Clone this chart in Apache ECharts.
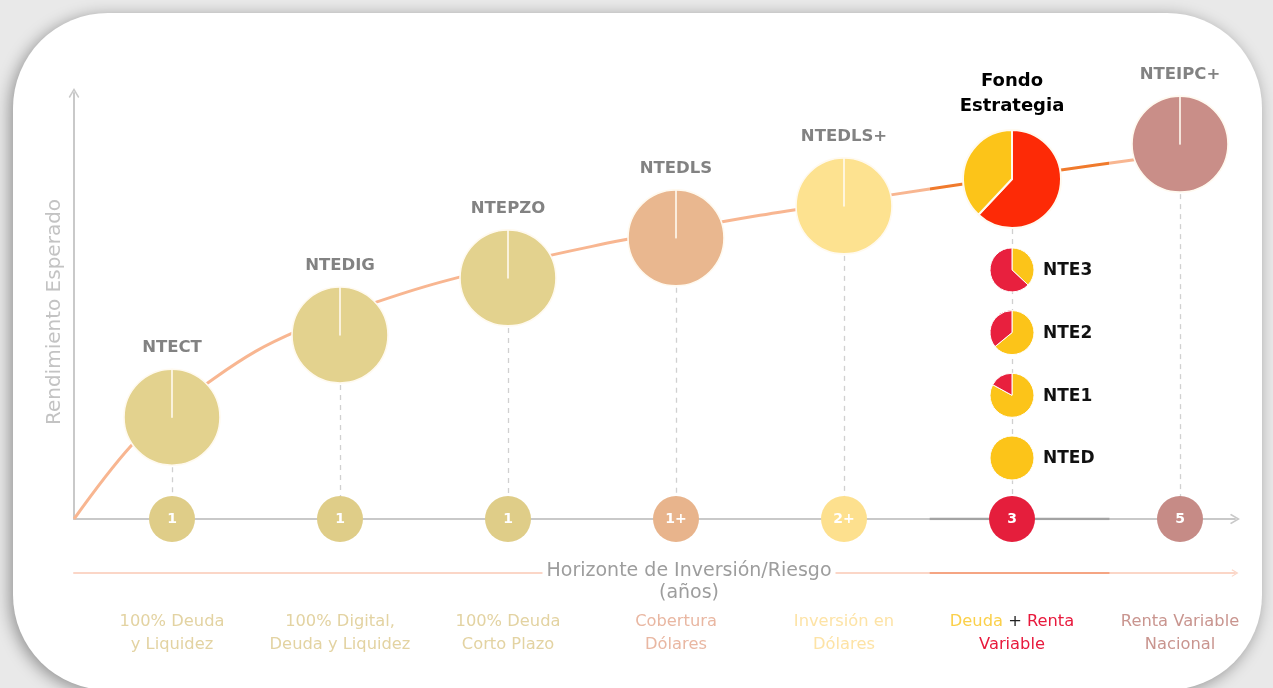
<!DOCTYPE html>
<html><head><meta charset="utf-8">
<script src="https://cdn.jsdelivr.net/npm/echarts@6/dist/echarts.min.js"></script>
<style>html,body{margin:0;padding:0;background:#e8e8e8}#c{width:1273px;height:688px}</style>
</head><body><div id="c"></div>
<script>
// ---------- data ----------
const funds = ['NTECT','NTEDIG','NTEPZO','NTEDLS','NTEDLS+','Fondo\nEstrategia','NTEIPC+'];
const fundPos = [1,2,3,4,5,6,7];
const fundLevel = [23.9, 43.2, 56.6, 66.0, 73.5, 79.8, 88.0];
const fundColors = ['#e3d28e','#e3d28e','#e3d28e','#e9b78f','#fde290','#fcc419','#c98e88'];
const horizonLabels = ['1','1','1','1+','2+','3','5'];
const horizonColors = ['#dfcd88','#dfcd88','#dfcd88','#e8b48c','#fde08e','#e51e3c','#c68b86'];
const descriptions = ['100% Deuda\ny Liquidez','100% Digital,\nDeuda y Liquidez','100% Deuda\nCorto Plazo','Cobertura\nDólares','Inversión en\nDólares','{y|Deuda} {k|+} {r|Renta}\n{r|Variable}','Renta Variable\nNacional'];
const descColors = ['#e3d3a2','#e3d3a2','#e3d3a2','#e9b7a2','#fde3a6','#e8193c','#c9958f'];
const curveX = [0.4167, 0.75, 1, 1.25, 1.5, 1.75, 2, 2.5, 3, 3.5, 4, 4.5, 5, 5.5, 6, 6.5, 7];
const curveY = [0, 16.9, 25.6, 33.0, 39.4, 44.2, 48.0, 54.5, 59.6, 64.0, 67.8, 71.3, 74.4, 77.4, 80.3, 83.1, 85.8];
const fondoDebt = 38, fondoEquity = 62;
const subFunds = ['NTE3','NTE2','NTE1','NTED'];
const subDebt = [37, 64, 83, 100];
const subEquity = [63, 36, 17, 0];
const highlightRange = [5.51, 6.58];

// ---------- layout / style ----------
const FONT = '"DejaVu Sans", sans-serif';
const YELLOW = '#fcc419', RED_SUB = '#e8203e', RED_FONDO = '#fd2a06';
const xMin = 1 - 98/168, xMax = 1 + 1063/168;
const chevron = 'path://M0,10 L6,0 L12,10 L10.6,11.2 L6,3.4 L1.4,11.2 Z';
const DESC_FS = 16.3;

const chart = echarts.init(document.getElementById('c'), null, {renderer:'canvas'});

function baseOption(extraSeries, extraGraphics){
  return {
    animation:false,
    backgroundColor:'#e9e9e9',
    textStyle:{fontFamily:FONT},
    graphic:[{
      type:'rect', z:-100,
      shape:{x:13,y:13,width:1249,height:677,r:95},
      style:{fill:'#ffffff',shadowBlur:16,shadowColor:'rgba(0,0,0,0.38)',shadowOffsetX:-3,shadowOffsetY:3}
    },{
      type:'text', z:100, x:689, y:560,
      style:{text:'Horizonte de Inversión/Riesgo\n(años)',font:'19px '+FONT,fill:'#9d9d9d',align:'center',verticalAlign:'top',backgroundColor:'#ffffff',padding:[0,4],lineHeight:22}
    }].concat(extraGraphics||[]),
    visualMap:[{
      type:'piecewise', show:false, dimension:0, seriesIndex:0,
      pieces:[{lt:highlightRange[0],color:'#f8b691'},{gte:highlightRange[0],lte:highlightRange[1],color:'#f07a2c'},{gt:highlightRange[1],color:'#f8b691'}]
    }],
    grid:[
      {left:74,right:38,top:93,bottom:169,outerBoundsMode:'none'},
      {left:74,right:38,top:571,height:2,outerBoundsMode:'none'}
    ],
    xAxis:[
      {type:'value',gridIndex:0,min:xMin,max:xMax,
       axisLine:{show:true,onZero:true,lineStyle:{color:'#c9c9c9',width:2},symbol:['none',chevron],symbolSize:[14,10]},
       axisTick:{show:false},axisLabel:{show:false},splitLine:{show:false}},
      {type:'value',gridIndex:1,min:xMin,max:xMax,
       axisLine:{show:true,lineStyle:{color:'#fbd6c7',width:2},symbol:['none',chevron],symbolSize:[10,7]},
       axisTick:{show:false},axisLabel:{show:false},splitLine:{show:false}}
    ],
    yAxis:[
      {type:'value',gridIndex:0,min:0,max:100,
       name:'Rendimiento Esperado',nameLocation:'middle',nameGap:9,nameRotate:90,
       nameTextStyle:{color:'#c3c3c3',fontSize:20,fontFamily:FONT,padding:[0,12,0,0]},
       axisLine:{show:true,lineStyle:{color:'#c9c9c9',width:2},symbol:['none',chevron],symbolSize:[14,10]},
       axisTick:{show:false},axisLabel:{show:false},splitLine:{show:false}},
      {type:'value',gridIndex:1,min:0,max:1,show:false}
    ],
    series:[
      {type:'line',name:'curve',xAxisIndex:0,yAxisIndex:0,z:2,smooth:0.35,symbol:'none',
       lineStyle:{width:3},
       data:curveX.map((x,i)=>[x,curveY[i]]),
       markLine:{silent:true,z:1,symbol:['none','none'],label:{show:false},
         lineStyle:{type:[5,5],color:'#d0d0d0',width:1.3},
         data:fundPos.map((x,i)=>[{coord:[x,fundLevel[i]]},{coord:[x,0]}])}
      },
      {type:'line',xAxisIndex:0,yAxisIndex:0,z:2,symbol:'none',silent:true,
       lineStyle:{color:'#a3a3a3',width:2.5},
       data:[[highlightRange[0],0],[highlightRange[1],0]]},
      {type:'scatter',xAxisIndex:0,yAxisIndex:0,z:6,symbolSize:46,silent:true,
       itemStyle:{opacity:1},
       data:fundPos.map((x,i)=>({value:[x,0],itemStyle:{color:horizonColors[i],opacity:1},label:{formatter:horizonLabels[i]}})),
       label:{show:true,position:'inside',color:'#fff',fontWeight:'bold',fontSize:14,fontFamily:FONT}},
      {type:'scatter',xAxisIndex:0,yAxisIndex:0,z:7,symbolSize:0,silent:true,
       itemStyle:{opacity:1},
       data:fundPos.map((x,i)=>({value:[x,fundLevel[i]],name:funds[i],
          label: i===5 ? {color:'#000',fontSize:18,lineHeight:25,distance:60} : {}})),
       label:{show:true,position:'top',distance:59,formatter:'{b}',color:'#828282',fontWeight:'bold',fontSize:16.5,fontFamily:FONT,lineHeight:20}},
      {type:'line',xAxisIndex:1,yAxisIndex:1,z:2,symbol:'none',silent:true,
       lineStyle:{color:'#f5a583',width:2},
       data:[[highlightRange[0],0],[highlightRange[1],0]]},
      {type:'scatter',xAxisIndex:1,yAxisIndex:1,z:7,symbolSize:0,silent:true,
       itemStyle:{opacity:1},
       data:fundPos.map((x,i)=>({value:[x,0],label:{formatter:descriptions[i],color:descColors[i]}})),
       label:{show:true,position:'bottom',distance:37,fontSize:DESC_FS,fontFamily:FONT,lineHeight:23,align:'center',
         rich:{y:{color:'#fbd04a',fontSize:DESC_FS,fontFamily:FONT,lineHeight:23},
               k:{color:'#222',fontSize:DESC_FS,fontFamily:FONT,lineHeight:23},
               r:{color:'#e8193c',fontSize:DESC_FS,fontFamily:FONT,lineHeight:23}}}}
    ].concat(extraSeries||[])
  };
}

chart.setOption(baseOption());

const pies = [];
const texts = [];
fundPos.forEach((x,i)=>{
  const c = chart.convertToPixel({xAxisIndex:0,yAxisIndex:0},[x,fundLevel[i]]);
  let data, r = 48, bw = 1.6;
  if (i === 5) {
    data = [{value:fondoEquity,itemStyle:{color:RED_FONDO}},{value:fondoDebt,itemStyle:{color:YELLOW}}];
    r = 49; bw = 2;
  } else {
    data = [{value:100,itemStyle:{color:fundColors[i]}},{value:0,itemStyle:{color:fundColors[i]}}];
  }
  pies.push({type:'pie',z:3,silent:true,center:c,radius:r,startAngle:90,clockwise:true,
    itemStyle:{borderColor:'#fffaf0',borderWidth:bw},label:{show:false},labelLine:{show:false},data:data});
});
// sub funds of the strategy fund, stacked on its column
const base = chart.convertToPixel({xAxisIndex:0,yAxisIndex:0},[6,0]);
subFunds.forEach((name,k)=>{
  const idxFromBottom = subFunds.length-1-k;
  const cy = base[1] - 61 - idxFromBottom*62.7;
  const data = [{value:subDebt[k],itemStyle:{color:YELLOW}},{value:subEquity[k],itemStyle:{color:RED_SUB}}].filter(d=>d.value>0);
  pies.push({type:'pie',z:4,silent:true,center:[base[0],cy],radius:22,startAngle:90,clockwise:true,
    itemStyle:{borderColor:'#fff',borderWidth:1},label:{show:false},labelLine:{show:false},data:data});
  texts.push({type:'text',z:100,x:base[0]+31,y:cy+1,style:{text:name,font:'bold 17px '+FONT,fill:'#111',align:'left',verticalAlign:'middle'}});
});

chart.setOption(baseOption(pies, texts), true);
</script></body></html>
